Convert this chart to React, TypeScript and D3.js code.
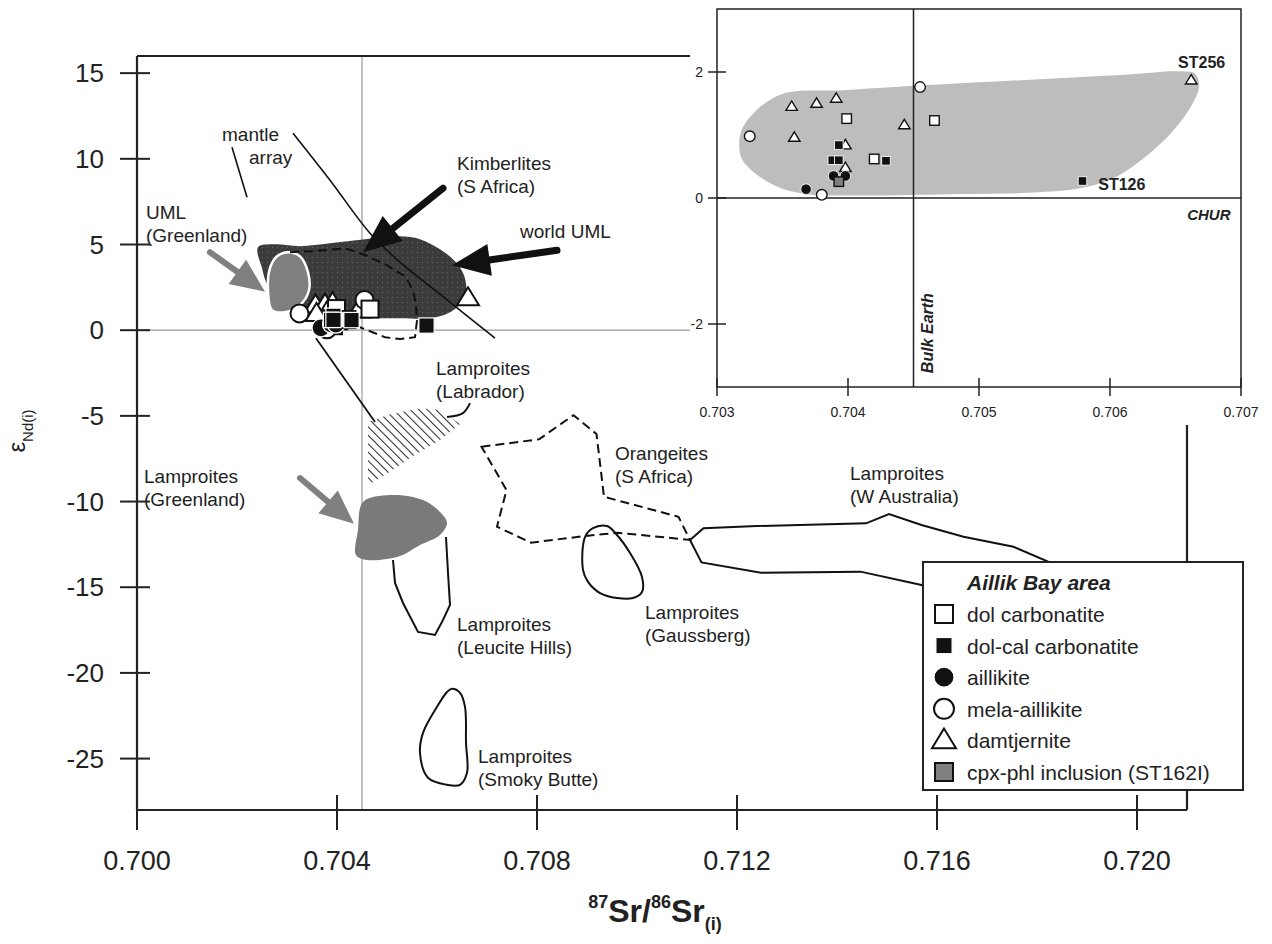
import React from 'react';
import * as d3 from 'd3';

type P = [number, number];

// ---------- tick values ----------
const mainXTicks = [0.7, 0.704, 0.708, 0.712, 0.716, 0.72];
const mainYTicks = [15, 10, 5, 0, -5, -10, -15, -20, -25];
const insetXTicks = [0.703, 0.704, 0.705, 0.706, 0.707];
const insetYTicks = [2, 0, -2];

// ---------- Aillik Bay samples (87Sr/86Sr, eNd) ----------
const dolCarbonatite: P[] = [[0.70399, 1.26], [0.70466, 1.23], [0.7042, 0.62]];
const dolCalCarbonatite: P[] = [[0.70393, 0.84], [0.70388, 0.6], [0.70393, 0.6], [0.70429, 0.59], [0.70579, 0.27]];
const aillikite: P[] = [[0.70368, 0.14], [0.70389, 0.35], [0.70398, 0.35]];
const melaAillikite: P[] = [[0.70325, 0.98], [0.70455, 1.76], [0.7038, 0.05]];
const damtjernite: P[] = [[0.70357, 1.45], [0.70376, 1.5], [0.70391, 1.58], [0.70359, 0.96], [0.70443, 1.16], [0.70662, 1.87], [0.70398, 0.84], [0.70398, 0.48]];
const cpxPhl: P[] = [[0.70393, 0.26]];

// ---------- fields ----------
const insetField: P[] = [[0.70317, 0.83], [0.70319, 1.09], [0.70331, 1.41], [0.70351, 1.66], [0.70396, 1.71], [0.70451, 1.78], [0.70532, 1.87], [0.70614, 1.96], [0.70652, 2.01], [0.70665, 1.97], [0.70668, 1.77], [0.70662, 1.46], [0.70647, 1.04], [0.70628, 0.67], [0.70606, 0.35], [0.70581, 0.17], [0.70546, 0.09], [0.70478, 0.06], [0.7041, 0.04], [0.70369, 0.06], [0.70347, 0.17], [0.70328, 0.41], [0.70319, 0.62]];
const worldUML: P[] = [[0.70242, 4.84], [0.70276, 5.01], [0.70326, 4.9], [0.70386, 5.07], [0.70456, 5.31], [0.70526, 5.48], [0.70566, 5.31], [0.70606, 4.72], [0.70636, 4.02], [0.70654, 3.21], [0.70658, 2.27], [0.70646, 1.52], [0.70622, 0.99], [0.70586, 0.7], [0.70526, 0.7], [0.70466, 0.7], [0.70406, 0.82], [0.70346, 1.05], [0.70296, 1.75], [0.70262, 2.62], [0.7025, 3.62]];
const umlGreenland: P[] = [[0.70302, 4.55], [0.70326, 4.31], [0.70342, 3.38], [0.70344, 2.33], [0.70326, 1.46], [0.70296, 1.05], [0.7027, 1.17], [0.70262, 2.33], [0.70266, 3.62], [0.7028, 4.31]];
const lampGreenland: P[] = [[0.70452, -10.03], [0.70506, -9.62], [0.70572, -9.91], [0.70606, -10.61], [0.7062, -11.25], [0.70606, -11.95], [0.70566, -12.54], [0.70526, -13.18], [0.7046, -13.41], [0.70438, -13.12], [0.70442, -11.66]];
const kimberliteSA: P[] = [[0.70306, 4.55], [0.70352, 4.61], [0.70416, 4.78], [0.70452, 4.43], [0.70496, 3.85], [0.70536, 3.15], [0.70552, 2.33], [0.70558, 1.46], [0.7056, 0.58], [0.70556, -0.41], [0.70526, -0.52], [0.70496, -0.41], [0.70466, -0.06], [0.70446, 0.17]];
const leuciteHills: P[] = [[0.70512, -13.41], [0.70516, -14.75], [0.70532, -15.92], [0.70562, -17.61], [0.70596, -17.78], [0.70612, -16.91], [0.70626, -16.03], [0.70622, -14.17], [0.70618, -12.07]];
const smokyButte: P[] = [[0.7063, -20.93], [0.70646, -21.17], [0.70656, -21.98], [0.70658, -24.08], [0.7066, -25.83], [0.70646, -26.53], [0.7062, -26.53], [0.70582, -26.12], [0.70566, -24.66], [0.70572, -23.5], [0.706, -21.98], [0.7062, -21.11]];
const gaussberg: P[] = [[0.70896, -12.07], [0.70912, -11.55], [0.7094, -11.43], [0.7096, -11.95], [0.70986, -13.0], [0.7101, -14.4], [0.7101, -15.28], [0.70992, -15.63], [0.7096, -15.63], [0.70926, -15.34], [0.70902, -14.69], [0.70892, -13.99]];
const orangeites: P[] = [[0.70689, -6.8], [0.70804, -6.37], [0.70873, -4.96], [0.70919, -6.06], [0.70934, -9.72], [0.71083, -10.89], [0.71106, -12.24], [0.70961, -11.82], [0.70896, -12.01], [0.70788, -12.4], [0.7072, -11.47], [0.70739, -9.33]];
const wAustralia: P[] = [[0.71106, -12.24], [0.71133, -11.56], [0.7124, -11.43], [0.71458, -11.27], [0.71504, -10.73], [0.71569, -11.37], [0.71653, -12.05], [0.71753, -12.64], [0.71822, -13.51], [0.71886, -15.74], [0.71626, -15.74], [0.71569, -14.87], [0.71447, -14.09], [0.71248, -14.15], [0.71129, -13.55]];
const labradorHatch: P[] = [[0.70462, -5.36], [0.70506, -4.9], [0.70566, -4.55], [0.70606, -4.66], [0.70646, -5.48], [0.70606, -6.41], [0.70546, -7.46], [0.70496, -8.45], [0.70462, -9.04]];

// ---------- lines ----------
const mantleArrayShort: P[] = [[0.7019, 10.67], [0.7022, 7.76]];
const mantleArrayLong: P[] = [[0.70312, 11.49], [0.70386, 8.75], [0.70466, 5.66], [0.70526, 3.97], [0.70606, 2.1], [0.70716, -0.47]];
const labradorTie: P[] = [[0.70358, -0.47], [0.70476, -5.36]];
const labradorLeader: P[] = [[0.70666, -4.26], [0.70652, -4.84], [0.7062, -5.07]];

// arrows: tail, tip
const blackArrows: [P, P][] = [
  [[0.70612, 8.28], [0.70452, 4.55]],
  [[0.7084, 4.66], [0.7063, 3.79]],
];
const grayArrows: [P, P][] = [
  [[0.70146, 4.55], [0.70256, 2.25]],
  [[0.70326, -8.63], [0.70434, -11.3]],
];

const fieldLabels: { x: number; y: number; lines: string[] }[] = [
  { x: 0.7017, y: 11.02, lines: ['mantle'] },
  { x: 0.70224, y: 9.68, lines: ['array'] },
  { x: 0.70018, y: 6.47, lines: ['UML', '(Greenland)'] },
  { x: 0.7064, y: 9.33, lines: ['Kimberlites', '(S Africa)'] },
  { x: 0.70766, y: 5.36, lines: ['world UML'] },
  { x: 0.70598, y: -2.62, lines: ['Lamproites', '(Labrador)'] },
  { x: 0.70014, y: -8.92, lines: ['Lamproites', '(Greenland)'] },
  { x: 0.70956, y: -7.58, lines: ['Orangeites', '(S Africa)'] },
  { x: 0.71426, y: -8.75, lines: ['Lamproites', '(W Australia)'] },
  { x: 0.71016, y: -16.85, lines: ['Lamproites', '(Gaussberg)'] },
  { x: 0.7064, y: -17.55, lines: ['Lamproites', '(Leucite Hills)'] },
  { x: 0.70682, y: -25.25, lines: ['Lamproites', '(Smoky Butte)'] },
];

type Kind = 'openSquare' | 'filledSquare' | 'filledCircle' | 'openCircle' | 'openTri' | 'graySquare';
const series: { name: string; kind: Kind; data: P[] }[] = [
  { name: 'damtjernite', kind: 'openTri', data: damtjernite },
  { name: 'mela-aillikite', kind: 'openCircle', data: melaAillikite },
  { name: 'dol carbonatite', kind: 'openSquare', data: dolCarbonatite },
  { name: 'dol-cal carbonatite', kind: 'filledSquare', data: dolCalCarbonatite },
  { name: 'aillikite', kind: 'filledCircle', data: aillikite },
  { name: 'cpx-phl inclusion (ST162I)', kind: 'graySquare', data: cpxPhl },
];
// in the main diagram the inclusion lies beneath the other symbols
const mainOrder = ['cpx-phl inclusion (ST162I)', 'damtjernite', 'mela-aillikite', 'aillikite', 'dol carbonatite', 'dol-cal carbonatite'];
const legendOrder = ['dol carbonatite', 'dol-cal carbonatite', 'aillikite', 'mela-aillikite', 'damtjernite', 'cpx-phl inclusion (ST162I)'];

const FONT = '"Liberation Sans", Arial, Helvetica, sans-serif';

type Sz = { sq: number; r: number; tri: number; sw: number };

function Marker({ kind, cx, cy, sz }: { kind: Kind; cx: number; cy: number; sz: Sz }) {
  const { sq, r, tri, sw } = sz;
  switch (kind) {
    case 'openSquare':
      return <rect x={cx - sq / 2} y={cy - sq / 2} width={sq} height={sq} fill="#fff" stroke="#111" strokeWidth={sw} />;
    case 'filledSquare':
      return <rect x={cx - sq * 0.45} y={cy - sq * 0.45} width={sq * 0.9} height={sq * 0.9} fill="#111" stroke="#fff" strokeWidth={sw * 0.6} />;
    case 'graySquare':
      return <rect x={cx - sq / 2} y={cy - sq / 2} width={sq} height={sq} fill="#7f7f7f" stroke="#111" strokeWidth={sw} />;
    case 'filledCircle':
      return <circle cx={cx} cy={cy} r={r} fill="#111" stroke="#fff" strokeWidth={sw * 0.6} />;
    case 'openCircle':
      return <circle cx={cx} cy={cy} r={r} fill="#fff" stroke="#111" strokeWidth={sw} />;
    case 'openTri': {
      const h = tri * 0.82;
      const pts = [[cx, cy - h * 0.6], [cx - tri / 2, cy + h * 0.4], [cx + tri / 2, cy + h * 0.4]];
      return <polygon points={pts.map(p => p.join(',')).join(' ')} fill="#fff" stroke="#111" strokeWidth={sw} strokeLinejoin="miter" />;
    }
  }
  return null;
}

function Arrow({ tail, tip, headLen, halfW, shaftW, color }: { tail: P; tip: P; headLen: number; halfW: number; shaftW: number; color: string }) {
  const dx = tip[0] - tail[0];
  const dy = tip[1] - tail[1];
  const L = Math.hypot(dx, dy);
  const ux = dx / L, uy = dy / L;
  const bx = tip[0] - ux * headLen, by = tip[1] - uy * headLen;
  const nx = -uy, ny = ux;
  const pts = [[tip[0], tip[1]], [bx + nx * halfW, by + ny * halfW], [bx - nx * halfW, by - ny * halfW]];
  return (
    <g>
      <line x1={tail[0]} y1={tail[1]} x2={bx + ux * 2} y2={by + uy * 2} stroke={color} strokeWidth={shaftW} strokeLinecap="round" />
      <polygon points={pts.map(p => p.join(',')).join(' ')} fill={color} />
    </g>
  );
}

export default function App() {
  const xM = d3.scaleLinear().domain([0.7, 0.721]).range([137, 1187]);
  const yM = d3.scaleLinear().domain([-28, 16]).range([810, 56]);
  const xI = d3.scaleLinear().domain([0.703, 0.707]).range([717, 1241]);
  const yI = d3.scaleLinear().domain([-3, 3]).range([387, 9]);

  const lin = d3.line<P>().x(d => xM(d[0])).y(d => yM(d[1]));
  const linClosed = d3.line<P>().x(d => xM(d[0])).y(d => yM(d[1])).curve(d3.curveLinearClosed);
  const smoothClosed = d3.line<P>().x(d => xM(d[0])).y(d => yM(d[1])).curve(d3.curveCatmullRomClosed.alpha(0.5));
  const smoothOpen = d3.line<P>().x(d => xM(d[0])).y(d => yM(d[1])).curve(d3.curveCatmullRom.alpha(0.5));
  const insetSmooth = d3.line<P>().x(d => xI(d[0])).y(d => yI(d[1])).curve(d3.curveCatmullRomClosed.alpha(0.5));

  const mainSz: Sz = { sq: 17, r: 9, tri: 22, sw: 2 };
  const insetSz: Sz = { sq: 9.5, r: 5.3, tri: 11.5, sw: 1.4 };
  const legendSz: Sz = { sq: 18, r: 10, tri: 24, sw: 2 };

  const px = (p: P): P => [xM(p[0]), yM(p[1])];

  const lab = { fontFamily: FONT, fontSize: 19, fill: '#222' } as const;

  const legendX = 923, legendY = 562, legendW = 320, legendH = 228;
  const rowY0 = 614, rowDy = 31.6;

  return (
    <svg width={1272} height={944} style={{ position: 'absolute', left: 0, top: 0, display: 'block', background: '#fff' }}>
      <defs>
        <pattern id="dots" width={5} height={5} patternUnits="userSpaceOnUse">
          <rect width={5} height={5} fill="#3b3b3b" />
          <circle cx={2.5} cy={2.5} r={0.7} fill="#5f5f5f" />
        </pattern>
        <pattern id="hatch" width={6} height={6} patternUnits="userSpaceOnUse" patternTransform="rotate(-45)">
          <line x1={0} y1={-1} x2={0} y2={7} stroke="#111" strokeWidth={1.8} />
        </pattern>
      </defs>

      {/* reference lines */}
      <line x1={xM(0.7045)} x2={xM(0.7045)} y1={yM(16)} y2={yM(-28)} stroke="#9a9a9a" strokeWidth={1.2} />
      <line x1={xM(0.7)} x2={xM(0.721)} y1={yM(0)} y2={yM(0)} stroke="#9a9a9a" strokeWidth={1.2} />

      {/* fields */}
      <path d={smoothClosed(worldUML) || ''} fill="url(#dots)" />
      <path d={smoothClosed(umlGreenland) || ''} fill="#7f7f7f" stroke="#fff" strokeWidth={2.5} />
      <path d={lin(kimberliteSA) || ''} fill="none" stroke="#111" strokeWidth={2} strokeDasharray="9,5" />
      <path d={lin(mantleArrayShort) || ''} fill="none" stroke="#111" strokeWidth={1.6} />
      <path d={smoothOpen(mantleArrayLong) || ''} fill="none" stroke="#111" strokeWidth={1.6} />
      <path d={lin(labradorTie) || ''} fill="none" stroke="#111" strokeWidth={1.8} />
      <path d={linClosed(labradorHatch) || ''} fill="url(#hatch)" />
      <path d={smoothOpen(labradorLeader) || ''} fill="none" stroke="#111" strokeWidth={2} />
      <path d={smoothClosed(lampGreenland) || ''} fill="#7a7a7a" />
      <path d={lin(leuciteHills) || ''} fill="none" stroke="#111" strokeWidth={2} />
      <path d={smoothClosed(smokyButte) || ''} fill="none" stroke="#111" strokeWidth={2} />
      <path d={smoothClosed(gaussberg) || ''} fill="none" stroke="#111" strokeWidth={2} />
      <path d={linClosed(orangeites) || ''} fill="none" stroke="#111" strokeWidth={2} strokeDasharray="9,5" />
      <path d={linClosed(wAustralia) || ''} fill="none" stroke="#111" strokeWidth={2} />

      {/* arrows */}
      {blackArrows.map((a, i) => (
        <Arrow key={'b' + i} tail={px(a[0])} tip={px(a[1])} headLen={38} halfW={16} shaftW={7} color="#111" />
      ))}
      {grayArrows.map((a, i) => (
        <Arrow key={'g' + i} tail={px(a[0])} tip={px(a[1])} headLen={34} halfW={15} shaftW={6} color="#808080" />
      ))}

      {/* sample points */}
      {mainOrder.map(name => {
        const s = series.find(q => q.name === name)!;
        return s.data.map((d, i) => (
          <Marker key={s.name + i} kind={s.kind} cx={xM(d[0])} cy={yM(d[1])} sz={mainSz} />
        ));
      })}

      {/* field labels */}
      {fieldLabels.map((l, i) => (
        <text key={i} x={xM(l.x)} y={yM(l.y)} {...lab}>
          {l.lines.map((t, j) => (
            <tspan key={j} x={xM(l.x)} dy={j === 0 ? 0 : 23}>{t}</tspan>
          ))}
        </text>
      ))}

      {/* main frame */}
      <g stroke="#222" strokeWidth={2.2} fill="none">
        <line x1={xM(0.7)} x2={xM(0.7)} y1={yM(16)} y2={yM(-28)} />
        <line x1={xM(0.7)} x2={xM(0.721)} y1={yM(-28)} y2={yM(-28)} />
        <line x1={xM(0.7)} x2={xM(0.721)} y1={yM(16)} y2={yM(16)} />
        <line x1={xM(0.721)} x2={xM(0.721)} y1={yM(16)} y2={yM(-28)} />
      </g>
      {mainYTicks.map(t => (
        <g key={'yt' + t}>
          <line x1={120} x2={150} y1={yM(t)} y2={yM(t)} stroke="#222" strokeWidth={2} />
          <text x={104} y={yM(t) + 9} textAnchor="end" fontFamily={FONT} fontSize={26} fill="#222">{t}</text>
        </g>
      ))}
      {mainXTicks.map(t => (
        <g key={'xt' + t}>
          <line x1={xM(t)} x2={xM(t)} y1={795} y2={830} stroke="#222" strokeWidth={2} />
          <text x={xM(t)} y={870} textAnchor="middle" fontFamily={FONT} fontSize={27} fill="#222">{t.toFixed(3)}</text>
        </g>
      ))}
      {/* axis titles */}
      <text transform="translate(25,431) rotate(-90)" textAnchor="middle" fontFamily={FONT} fill="#222">
        <tspan fontSize={24}>ε</tspan>
        <tspan fontSize={15} dy={8}>Nd(i)</tspan>
      </text>
      <text x={655} y={922} textAnchor="middle" fontFamily={FONT} fontWeight="bold" fill="#222">
        <tspan fontSize={18} dy={-14}>87</tspan>
        <tspan fontSize={32} dy={14}>Sr/</tspan>
        <tspan fontSize={18} dy={-14}>86</tspan>
        <tspan fontSize={32} dy={14}>Sr</tspan>
        <tspan fontSize={18} dy={8}>(i)</tspan>
      </text>

      {/* legend */}
      <rect x={legendX} y={legendY} width={legendW} height={legendH} fill="#fff" stroke="#222" strokeWidth={2} />
      <text x={967} y={590} fontFamily={FONT} fontSize={21} fontWeight="bold" fontStyle="italic" fill="#222">Aillik Bay area</text>
      {legendOrder.map((name, i) => {
        const s = series.find(q => q.name === name)!;
        const cy = rowY0 + i * rowDy;
        return (
          <g key={name}>
            <Marker kind={s.kind} cx={944} cy={cy} sz={legendSz} />
            <text x={967} y={cy + 8} fontFamily={FONT} fontSize={21} fill="#222">{name}</text>
          </g>
        );
      })}

      {/* inset */}
      <rect x={690} y={0} width={582} height={425} fill="#fff" />
      <path d={insetSmooth(insetField) || ''} fill="#bdbdbd" />
      <line x1={xI(0.703)} x2={xI(0.707)} y1={yI(0)} y2={yI(0)} stroke="#222" strokeWidth={1.5} />
      <line x1={xI(0.7045)} x2={xI(0.7045)} y1={yI(3)} y2={yI(-3)} stroke="#222" strokeWidth={1.5} />
      {series.map(s => s.data.map((d, i) => (
        <Marker key={'i' + s.name + i} kind={s.kind} cx={xI(d[0])} cy={yI(d[1])} sz={insetSz} />
      )))}
      <rect x={xI(0.703)} y={yI(3)} width={xI(0.707) - xI(0.703)} height={yI(-3) - yI(3)} fill="none" stroke="#222" strokeWidth={1.5} />
      {insetXTicks.map(t => (
        <g key={'ixt' + t}>
          <line x1={xI(t)} x2={xI(t)} y1={yI(-3) - 9} y2={yI(-3) + 9} stroke="#222" strokeWidth={1.5} />
          <text x={xI(t)} y={417} textAnchor="middle" fontFamily={FONT} fontSize={14} fill="#222">{t.toFixed(3)}</text>
        </g>
      ))}
      {insetYTicks.map(t => (
        <g key={'iyt' + t}>
          <line x1={xI(0.703) - 9} x2={xI(0.703) + 9} y1={yI(t)} y2={yI(t)} stroke="#222" strokeWidth={1.5} />
          <text x={703} y={yI(t) + 5} textAnchor="end" fontFamily={FONT} fontSize={14} fill="#222">{t}</text>
        </g>
      ))}
      <text x={xI(0.70652)} y={yI(2.06)} fontFamily={FONT} fontSize={16} fontWeight="bold" fill="#222">ST256</text>
      <text x={xI(0.70591)} y={yI(0.13)} fontFamily={FONT} fontSize={16} fontWeight="bold" fill="#222">ST126</text>
      <text x={xI(0.70692)} y={yI(-0.35)} textAnchor="end" fontFamily={FONT} fontSize={15} fontWeight="bold" fontStyle="italic" fill="#222">CHUR</text>
      <text transform={`translate(${xI(0.70465)},${yI(-2.78)}) rotate(-90)`} fontFamily={FONT} fontSize={16} fontWeight="bold" fontStyle="italic" fill="#222">Bulk Earth</text>
    </svg>
  );
}
